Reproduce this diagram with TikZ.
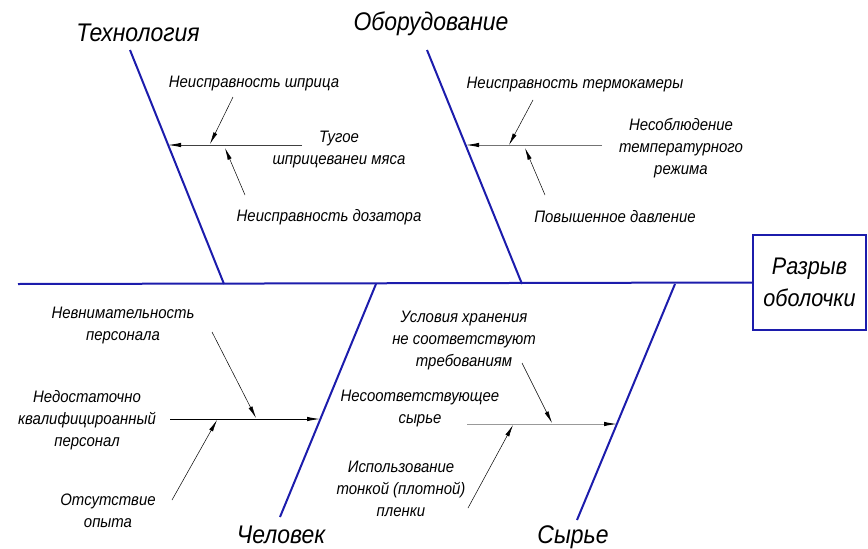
\documentclass[tikz,border=0pt]{standalone}
\usepackage{fontspec}
\setmainfont{Liberation Sans}[FakeStretch=0.9]
\usetikzlibrary{arrows.meta}
\definecolor{bonecol}{RGB}{28,28,172}
\begin{document}
\begin{tikzpicture}[x=1pt,y=-1pt,
        bone/.style={color=bonecol, line width=2pt},
        rib/.style={line width=0.8pt, -{Latex[length=13pt,width=4.4pt,color=black]}},
        cause/.style={line width=0.5pt, -{Latex[length=12pt,width=4.2pt]}},
        head/.style={inner sep=0pt, font=\fontsize{25.5}{28}\selectfont\itshape},
        lbl/.style={inner sep=0pt, align=center, font=\fontsize{16.6}{22}\selectfont\itshape}]
    \useasboundingbox (0,0) rectangle (868,549);
    % head of the fish
    \node[draw=bonecol, line width=2pt, minimum width=113pt, minimum height=95pt,
          head, align=center, font=\fontsize{24}{32}\selectfont\itshape] (effect) at (809.5,282.5) {Разрыв\\оболочки};
    \coordinate (tail) at (18,284);
    \draw[bone] (tail) -- (effect.west);
    % main bones
    \coordinate (tech1) at (130,50);   \coordinate (tech2) at (224,284);
    \coordinate (equip1) at (427,50);  \coordinate (equip2) at (522,284);
    \coordinate (man1) at (376,284);   \coordinate (man2) at (280,517);
    \coordinate (raw1) at (675,284);   \coordinate (raw2) at (577,520);
    \draw[bone] (tech1) -- (tech2);
    \draw[bone] (equip1) -- (equip2);
    \draw[bone] (man1) -- (man2);
    \draw[bone] (raw1) -- (raw2);
    \node[head] (tech) at (138,33) {Технология};
    \node[head] (equip) at (431,24) {Оборудование};
    \node[head] (man) at (281,535) {Человек};
    \node[head] (raw) at (573,537) {Сырье};
    % Технология
    \node[lbl] (shpric) at (254,84) {Неисправность шприца};
    \node[lbl] (tugoe) at (339,150) {Тугое\\шприцеванеи мяса};
    \node[lbl] (dozator) at (329,217) {Неисправность дозатора};
    \coordinate (r1a) at (302,145); \coordinate (r1b) at (168,145);
    \coordinate (c1a) at (233,97);  \coordinate (c1b) at (210,144);
    \coordinate (c2a) at (245,195); \coordinate (c2b) at (225,148);
    \draw[rib, color=black!75] (r1a) -- (r1b);
    \draw[cause] (c1a) -- (c1b);
    \draw[cause] (c2a) -- (c2b);
    % Оборудование
    \node[lbl] (termo) at (575,85) {Неисправность термокамеры};
    \node[lbl] (rezhim) at (681,148) {Несоблюдение\\температурного\\режима};
    \node[lbl] (davl) at (615,217) {Повышенное давление};
    \coordinate (r2a) at (602,145); \coordinate (r2b) at (466,145);
    \coordinate (c3a) at (533,100); \coordinate (c3b) at (509,145);
    \coordinate (c4a) at (545,195); \coordinate (c4b) at (525,148);
    \draw[rib, color=black!55] (r2a) -- (r2b);
    \draw[cause] (c3a) -- (c3b);
    \draw[cause] (c4a) -- (c4b);
    % Человек
    \node[lbl] (vnim) at (123,326) {Невнимательность\\персонала};
    \node[lbl] (kval) at (87,420) {Недостаточно\\квалифицироанный\\персонал};
    \node[lbl] (opyt) at (108,511) {Отсутствие\\опыта};
    \coordinate (r3a) at (170,419); \coordinate (r3b) at (320,419);
    \coordinate (c5a) at (212,332); \coordinate (c5b) at (256,418);
    \coordinate (c6a) at (172,500); \coordinate (c6b) at (217,420);
    \draw[rib] (r3a) -- (r3b);
    \draw[cause] (c5a) -- (c5b);
    \draw[cause] (c6a) -- (c6b);
    % Сырье
    \node[lbl] (hran) at (464,341) {Условия хранения\\не соответствуют\\требованиям};
    \node[lbl] (nesoot) at (420,409) {Несоответствующее\\сырье};
    \node[lbl] (plenka) at (401,489) {Использование\\тонкой (плотной)\\пленки};
    \coordinate (r4a) at (467,424); \coordinate (r4b) at (617,424);
    \coordinate (c7a) at (522,363); \coordinate (c7b) at (552,423);
    \coordinate (c8a) at (468,508); \coordinate (c8b) at (513,425);
    \draw[rib, color=black!40] (r4a) -- (r4b);
    \draw[cause] (c7a) -- (c7b);
    \draw[cause] (c8a) -- (c8b);
\end{tikzpicture}
\end{document}
